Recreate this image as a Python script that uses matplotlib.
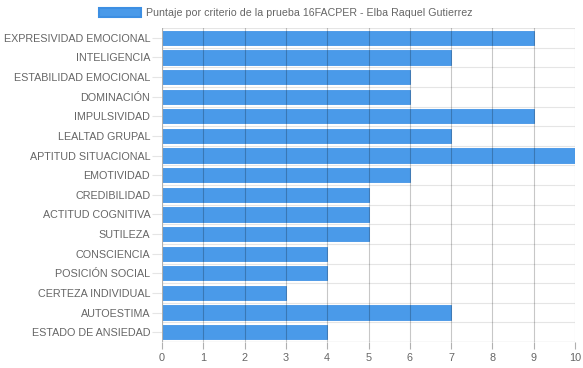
import matplotlib.pyplot as plt
from matplotlib.patches import Patch

categorias = ["EXPRESIVIDAD EMOCIONAL", "INTELIGENCIA", "ESTABILIDAD EMOCIONAL",
              "DOMINACIÓN", "IMPULSIVIDAD", "LEALTAD GRUPAL", "APTITUD SITUACIONAL",
              "EMOTIVIDAD", "CREDIBILIDAD", "ACTITUD COGNITIVA", "SUTILEZA",
              "CONSCIENCIA", "POSICIÓN SOCIAL", "CERTEZA INDIVIDUAL", "AUTOESTIMA",
              "ESTADO DE ANSIEDAD"]
puntajes = [9, 7, 6, 6, 9, 7, 10, 6, 5, 5, 5, 4, 4, 3, 7, 4]
ticks_x = list(range(0, 11))
titulo = "Puntaje por criterio de la prueba 16FACPER - Elba Raquel Gutierrez"

plt.rcParams['font.family'] = ['Liberation Sans', 'DejaVu Sans']

fig = plt.figure(figsize=(5.83, 3.68), dpi=100)
ax = fig.add_axes([162/583, 1-342/368, (575-162)/583, (342-28)/368])

pos = list(range(len(categorias)))
ax.barh(pos, puntajes, height=0.72, color="#4a9ae9", edgecolor="#4494e6",
        linewidth=0.6, zorder=2)

ax.set_ylim(len(categorias) - 0.5, -0.5)
ax.set_xlim(0, 10)
ax.set_xticks(ticks_x)
ax.set_yticks(pos)
ax.set_yticklabels(categorias)

# rejilla vertical (mas oscura, encima de las barras)
for t in ticks_x:
    ax.axvline(t, color="#000000", alpha=0.22, linewidth=0.8, zorder=3)
# rejilla horizontal entre categorias
for b in range(len(categorias) + 1):
    ax.axhline(b - 0.5, color="#e5e5e5", linewidth=0.8, zorder=1)

for s in ax.spines.values():
    s.set_visible(False)
ax.axhline(len(categorias) - 0.5, color="#b0b0b0", linewidth=0.8, zorder=3)
ax.axvline(0, color="#b0b0b0", linewidth=0.8, zorder=3)

ax.tick_params(axis="x", length=5, width=0.8, color="#b0b0b0", labelsize=7.8,
               labelcolor="#666666", pad=3)
ax.tick_params(axis="y", length=7, width=0.8, color="#e5e5e5", labelsize=7.75,
               labelcolor="#666666", pad=1.5)

fig.legend(handles=[Patch(facecolor="#4a9ae9", edgecolor="#3d8fe3", linewidth=1.5)],
           labels=[titulo], loc="center", bbox_to_anchor=(0.49, 1-13/368),
           frameon=False, fontsize=7.7, handlelength=3.9, handleheight=0.95,
           handletextpad=0.5, labelcolor="#666666")

fig.savefig("out.png", dpi=100)
